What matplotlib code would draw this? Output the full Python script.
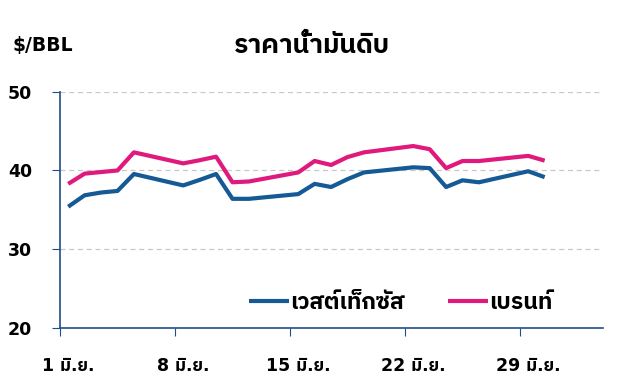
import matplotlib
matplotlib.use('Agg')
import matplotlib.pyplot as plt
from matplotlib import font_manager
from matplotlib.ft2font import FT2Font

# ราคาน้ำมันดิบ มิ.ย. (วันทำการ)
days = [1, 2, 3, 4, 5, 8, 9, 10, 11, 12, 15, 16, 17, 18, 19, 22, 23, 24, 25, 26, 29, 30]
wti = [35.4, 36.85, 37.2, 37.4, 39.55, 38.1, 38.8, 39.55, 36.4, 36.4, 37.0, 38.3,
       37.9, 38.9, 39.75, 40.4, 40.3, 37.9, 38.75, 38.5, 39.9, 39.15]
brent = [38.3, 39.6, 39.8, 40.0, 42.3, 40.9, 41.3, 41.75, 38.5, 38.6, 39.75, 41.2,
         40.7, 41.7, 42.3, 43.1, 42.7, 40.3, 41.2, 41.2, 41.85, 41.25]
series_names = ['เวสต์เท็กซัส', 'เบรนท์']
tick_days = [1, 8, 15, 22, 29]
tick_labels = ['1 มิ.ย.', '8 มิ.ย.', '15 มิ.ย.', '22 มิ.ย.', '29 มิ.ย.']
yticks = [20, 30, 40, 50]


def thai_family():
    # หา font ที่มีตัวอักษรไทย เอาตัวหนาก่อน
    found = []
    for f in font_manager.fontManager.ttflist:
        try:
            if 0x0E23 in FT2Font(f.fname).get_charmap():
                w = f.weight if isinstance(f.weight, int) else 400
                found.append((('Thai' in f.name), w >= 600, f.name))
        except Exception:
            pass
    if not found:
        return 'DejaVu Sans'
    found.sort(key=lambda t: (not t[0], not t[1]))
    return found[0][2]


thai = thai_family()
plt.rcParams['font.family'] = ['DejaVu Sans', thai]
plt.rcParams['font.weight'] = 'bold'

blue = '#155995'
pink = '#e0197d'
navy = '#1f4f88'

fig = plt.figure(figsize=(6.19, 3.82), dpi=100)
ax = fig.add_axes([60 / 619, 1 - 328 / 382, 543 / 619, (328 - 91.7) / 382])

x = [d - 1 + 0.5 for d in days]
ax.plot(x, wti, color=blue, lw=3, label=series_names[0], solid_capstyle='butt')
ax.plot(x, brent, color=pink, lw=3, label=series_names[1], solid_capstyle='butt')

ax.set_xlim(0, 33.05)
ax.set_ylim(20, 50)
ax.set_yticks(yticks, [str(v) for v in yticks])
ax.set_xticks([d - 1 for d in tick_days], [''] * len(tick_days))
ax.set_xticks([d - 0.5 for d in tick_days], tick_labels, minor=True)
ax.tick_params(axis='x', which='minor', length=0, pad=21, labelsize=12.5)
ax.tick_params(axis='x', which='major', length=6, color=navy, direction='out')
ax.tick_params(axis='y', which='major', length=6, color=navy, direction='out',
               pad=14, labelsize=12.5)

for s in ['top', 'right']:
    ax.spines[s].set_visible(False)
for s in ['left', 'bottom']:
    ax.spines[s].set_color(navy)
    ax.spines[s].set_linewidth(1.2)

for v in yticks[1:]:
    ax.axhline(v, color='#c8c8c8', lw=0.9, ls=(0, (4, 3)), zorder=0)

ax.legend(loc='lower center', bbox_to_anchor=(0.627, -0.03), ncol=2, frameon=False,
          handlelength=1.75, handletextpad=0.05, columnspacing=1.9,
          prop={'size': 16.5, 'weight': 'bold'})

fig.text(12 / 619, 1 - 46 / 382, '$/BBL', fontsize=13.5, fontweight='bold', va='center')
fig.text(312 / 619, 1 - 46 / 382, 'ราคาน้ำมันดิบ', fontsize=19, fontweight='bold',
         va='center', ha='center')

fig.savefig('out.png', dpi=100)
